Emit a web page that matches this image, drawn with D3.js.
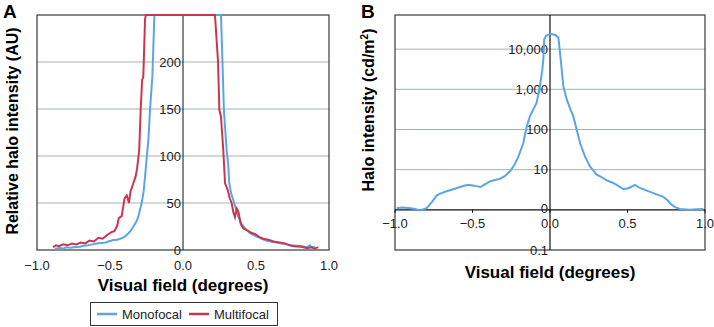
<!DOCTYPE html>
<html>
<head>
<meta charset="utf-8">
<script src="https://cdn.jsdelivr.net/npm/d3@7"></script>
<style>
  body { margin: 0; background: #fff; font-family: "Liberation Sans", Arial, sans-serif; }
  svg text { font-family: "Liberation Sans", Arial, sans-serif; }
</style>
</head>
<body>
<div id="chart"></div>
<script>
// Panel A: relative halo intensity (AU), [degrees, value]
const monofocalA = [[-0.877,1],[-0.85,2],[-0.82,1.5],[-0.80,3],[-0.77,2.5],[-0.75,3],[-0.705,3.5],[-0.68,4.5],[-0.65,5],[-0.62,6],[-0.59,7],[-0.56,7.5],[-0.53,8],[-0.50,9.5],[-0.477,10.6],[-0.45,11],[-0.43,12],[-0.40,14],[-0.386,16],[-0.36,20],[-0.34,25],[-0.32,30],[-0.306,35.5],[-0.283,50],[-0.27,62],[-0.26,78],[-0.244,106],[-0.237,117],[-0.226,149],[-0.21,184],[-0.203,216],[-0.196,250],
  [0.26,250],[0.27,202],[0.28,149],[0.299,106],[0.31,90],[0.317,71],[0.33,60],[0.345,53],[0.36,45],[0.379,35.5],[0.40,28],[0.42,24],[0.436,21],[0.46,18],[0.48,16],[0.51,14],[0.539,12],[0.57,10],[0.60,9],[0.64,8],[0.676,7],[0.71,6],[0.74,5],[0.78,4.5],[0.813,4],[0.85,3],[0.87,5],[0.88,3],[0.904,3.5]];
const multifocalA = [[-0.89,3],[-0.87,5],[-0.85,4],[-0.82,6],[-0.79,5],[-0.76,7],[-0.73,6],[-0.70,8],[-0.67,7],[-0.64,10],[-0.61,9],[-0.58,13],[-0.55,12],[-0.52,16],[-0.49,19],[-0.47,20],[-0.45,26],[-0.44,34],[-0.42,36],[-0.40,55],[-0.385,58],[-0.37,50],[-0.36,62],[-0.34,71],[-0.325,78],[-0.315,86],[-0.30,106],[-0.29,149],[-0.28,181],[-0.272,184],[-0.26,245],[-0.255,250],
  [0.219,250],[0.24,200],[0.249,149],[0.26,142],[0.276,106],[0.288,71],[0.306,64],[0.32,55],[0.333,50],[0.345,40],[0.356,35],[0.368,44],[0.379,41],[0.395,28],[0.413,23],[0.44,21],[0.47,18],[0.493,17],[0.52,14],[0.55,12],[0.584,11],[0.62,9],[0.66,8],[0.70,7],[0.73,5],[0.76,4],[0.81,3.5],[0.85,2],[0.88,3],[0.90,1.5],[0.927,3]];
const yTicksA = [0, 50, 100, 150, 200];
const xTicks = [-1, -0.5, 0, 0.5, 1];
const xTickLabels = ['\u22121.0', '\u22120.5', '0.0', '0.5', '1.0'];

// Panel B: halo intensity (cd/m²), log scale
const haloB = [[-0.99,1.1],[-0.95,1.15],[-0.90,1.1],[-0.87,1.05],[-0.84,0.96],[-0.795,1.1],[-0.76,1.6],[-0.73,2.3],[-0.70,2.6],[-0.667,2.9],[-0.63,3.2],[-0.60,3.5],[-0.56,3.9],[-0.527,4.2],[-0.49,4.0],[-0.45,3.7],[-0.42,4.3],[-0.387,5.1],[-0.35,5.6],[-0.323,5.9],[-0.29,7.0],[-0.258,9.1],[-0.23,13],[-0.204,21],[-0.172,46],[-0.15,120],[-0.129,215],[-0.105,330],[-0.086,465],[-0.065,1200],[-0.05,3000],[-0.043,5600],[-0.037,17800],[-0.025,21500],[-0.011,23000],[0.011,23700],[0.035,22500],[0.054,19500],[0.069,5600],[0.086,1200],[0.108,560],[0.13,330],[0.15,215],[0.172,100],[0.194,46],[0.226,21],[0.258,12],[0.28,9.5],[0.301,7.5],[0.33,6.6],[0.366,5.4],[0.40,4.8],[0.43,4.2],[0.473,3.3],[0.50,3.4],[0.516,3.6],[0.548,4.2],[0.58,3.5],[0.624,3.0],[0.68,2.5],[0.731,2.1],[0.76,1.7],[0.785,1.33],[0.81,1.15],[0.839,1.05],[0.90,1.0],[0.95,1.03],[0.99,1.05]];
const yTicksB = [0.1, 1, 10, 100, 1000, 10000];
const yTickLabelsB = ['0.1', '0', '10', '100', '1,000', '10,000'];

const blue = '#5ba5e6';
const red = '#c9364f';
const gridColor = '#a3b3b3';
const frameColor = '#3a3a3a';

const svg = d3.select('#chart').append('svg')
    .attr('width', 714)
    .attr('height', 327);

// ---------- Panel A ----------
const xA = d3.scaleLinear().domain([-1, 1]).range([37, 329]);
const yA = d3.scaleLinear().domain([0, 250]).range([250, 15]);

const gA = svg.append('g');

// clip slightly above the frame so the saturated plateau shows on the top edge
gA.append('clipPath').attr('id', 'clipA')
    .append('rect')
    .attr('x', xA(-1)).attr('y', yA(250) - 1.5)
    .attr('width', xA(1) - xA(-1)).attr('height', yA(0) - yA(250) + 1.5);

gA.selectAll('.gridA')
    .data(yTicksA.filter(d => d > 0))
    .enter().append('line')
    .attr('x1', xA(-1)).attr('x2', xA(1))
    .attr('y1', d => yA(d)).attr('y2', d => yA(d))
    .attr('stroke', gridColor).attr('stroke-width', 1);

// frame
gA.append('rect')
    .attr('x', xA(-1)).attr('y', yA(250))
    .attr('width', xA(1) - xA(-1)).attr('height', yA(0) - yA(250))
    .attr('fill', 'none').attr('stroke', frameColor).attr('stroke-width', 1.2);

// vertical axis at x = 0
gA.append('line')
    .attr('x1', xA(0)).attr('x2', xA(0))
    .attr('y1', yA(250)).attr('y2', yA(0))
    .attr('stroke', '#111').attr('stroke-width', 1);

const lineA = d3.line().x(d => xA(d[0])).y(d => yA(d[1]));

gA.append('path').datum(monofocalA)
    .attr('clip-path', 'url(#clipA)')
    .attr('fill', 'none').attr('stroke', blue).attr('stroke-width', 2)
    .attr('d', lineA);
gA.append('path').datum(multifocalA)
    .attr('clip-path', 'url(#clipA)')
    .attr('fill', 'none').attr('stroke', red).attr('stroke-width', 2)
    .attr('d', lineA);

gA.selectAll('.ylabA')
    .data(yTicksA)
    .enter().append('text')
    .attr('x', xA(0) - 2)
    .attr('y', d => yA(d))
    .attr('dy', '0.35em')
    .attr('text-anchor', 'end')
    .style('font-size', '13px')
    .style('fill', '#222')
    .text(d => d);

gA.selectAll('.xlabA')
    .data(xTicks)
    .enter().append('text')
    .attr('x', d => xA(d))
    .attr('y', 265)
    .attr('dy', '0.35em')
    .attr('text-anchor', 'middle')
    .style('font-size', '13px')
    .style('fill', '#222')
    .text((d, i) => xTickLabels[i]);

gA.append('text')
    .attr('x', xA(0)).attr('y', 291)
    .attr('text-anchor', 'middle')
    .style('font-size', '17px').style('font-weight', 'bold')
    .text('Visual field (degrees)');

gA.append('text')
    .attr('transform', 'rotate(-90)')
    .attr('x', -131).attr('y', 18)
    .attr('text-anchor', 'middle')
    .style('font-size', '16px').style('font-weight', 'bold')
    .text('Relative halo intensity (AU)');

gA.append('text')
    .attr('x', 3).attr('y', 18)
    .style('font-size', '19px').style('font-weight', 'bold')
    .text('A');

// legend
const legend = svg.append('g');
legend.append('rect')
    .attr('x', 90.5).attr('y', 302.5).attr('width', 187).attr('height', 23)
    .attr('fill', '#fff').attr('stroke', '#333').attr('stroke-width', 1);
[['Monofocal', blue, 97], ['Multifocal', red, 189]].forEach(([name, color, x0]) => {
    legend.append('line')
        .attr('x1', x0).attr('x2', x0 + 20)
        .attr('y1', 314).attr('y2', 314)
        .attr('stroke', color).attr('stroke-width', 2.5);
    legend.append('text')
        .attr('x', x0 + 25).attr('y', 314)
        .attr('dy', '0.35em')
        .style('font-size', '13px').style('fill', '#222')
        .text(name);
});

// ---------- Panel B ----------
const xB = d3.scaleLinear().domain([-1, 1]).range([395, 705]);
const yB = d3.scaleLog().domain([0.1, Math.pow(10, 4.85)]).range([250, 15]);

const gB = svg.append('g');

gB.selectAll('.gridB')
    .data(yTicksB.filter(d => d > 1))
    .enter().append('line')
    .attr('x1', xB(-1)).attr('x2', xB(1))
    .attr('y1', d => yB(d)).attr('y2', d => yB(d))
    .attr('stroke', gridColor).attr('stroke-width', 1);

gB.append('rect')
    .attr('x', xB(-1)).attr('y', 15)
    .attr('width', xB(1) - xB(-1)).attr('height', 235)
    .attr('fill', 'none').attr('stroke', frameColor).attr('stroke-width', 1.2);

// horizontal axis at 1 cd/m²
gB.append('line')
    .attr('x1', xB(-1)).attr('x2', xB(1))
    .attr('y1', yB(1)).attr('y2', yB(1))
    .attr('stroke', '#111').attr('stroke-width', 1.2);
gB.selectAll('.xtickB')
    .data(xTicks)
    .enter().append('line')
    .attr('x1', d => xB(d)).attr('x2', d => xB(d))
    .attr('y1', yB(1)).attr('y2', yB(1) + 3)
    .attr('stroke', '#111');

gB.selectAll('.xlabB')
    .data(xTicks)
    .enter().append('text')
    .attr('x', d => xB(d))
    .attr('y', yB(1) + 14)
    .attr('dy', '0.35em')
    .attr('text-anchor', 'middle')
    .style('font-size', '13px').style('fill', '#222')
    .text((d, i) => xTickLabels[i]);

gB.selectAll('.ylabB')
    .data(yTicksB)
    .enter().append('text')
    .attr('x', xB(0) - 2)
    .attr('y', d => yB(d) - (d === 1 ? 1 : 0))
    .attr('dy', '0.35em')
    .attr('text-anchor', 'end')
    .style('font-size', '13px').style('fill', '#222')
    .text((d, i) => yTickLabelsB[i]);

// vertical axis at x = 0 (drawn over the labels as in the original)
gB.append('line')
    .attr('x1', xB(0)).attr('x2', xB(0))
    .attr('y1', 15).attr('y2', 250)
    .attr('stroke', '#111').attr('stroke-width', 1.2);

const lineB = d3.line().x(d => xB(d[0])).y(d => yB(d[1]));
gB.append('path').datum(haloB)
    .attr('fill', 'none').attr('stroke', blue).attr('stroke-width', 2)
    .attr('d', lineB);

gB.append('text')
    .attr('x', xB(0)).attr('y', 278)
    .attr('text-anchor', 'middle')
    .style('font-size', '17px').style('font-weight', 'bold')
    .text('Visual field (degrees)');

const yTitleB = gB.append('text')
    .attr('transform', 'rotate(-90)')
    .attr('x', -110).attr('y', 374)
    .attr('text-anchor', 'middle')
    .style('font-size', '16px').style('font-weight', 'bold');
yTitleB.append('tspan').text('Halo intensity (cd/m');
yTitleB.append('tspan').attr('dy', -6).style('font-size', '10px').text('2');
yTitleB.append('tspan').attr('dy', 6).text(')');

gB.append('text')
    .attr('x', 361).attr('y', 18)
    .style('font-size', '19px').style('font-weight', 'bold')
    .text('B');
</script>
</body>
</html>
